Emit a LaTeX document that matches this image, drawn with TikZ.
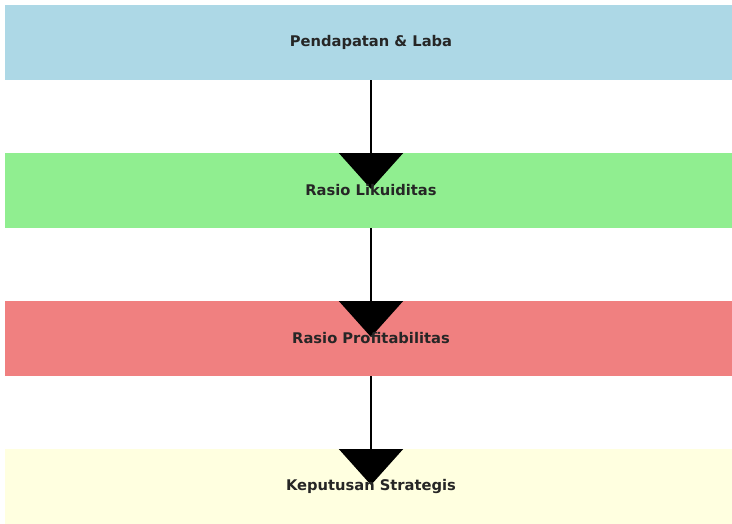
\documentclass[tikz,border=0pt]{standalone}
\usepackage{fontspec}
\setmainfont{DejaVu Sans}
\usetikzlibrary{arrows.meta}
\definecolor{cblue}{HTML}{ADD8E6}
\definecolor{cgreen}{HTML}{90EE90}
\definecolor{cred}{HTML}{F08080}
\definecolor{cyellow}{HTML}{FFFFE0}
\definecolor{ctext}{HTML}{262626}
\begin{document}
\begin{tikzpicture}[x=1pt,y=1pt,
  band/.style={minimum width=732pt,minimum height=75pt,inner sep=0pt,outer sep=0pt,
    font=\fontsize{14.7pt}{17pt}\selectfont\bfseries,text=ctext},
  flow/.style={line width=2.2pt,-{Triangle[width=64pt,length=36pt]}}]
\useasboundingbox (0,0) rectangle (732,-523);
\clip (0,0) rectangle (732,-523);
\node[band,fill=cblue] (a) at (371,-42.5) {};
\node[band,fill=cgreen] (b) at (371,-190.5) {};
\node[band,fill=cred] (c) at (371,-338.5) {};
\node[band,fill=cyellow] (d) at (371,-486.5) {};
\draw[flow] (a.south) -- ([yshift=-36pt]b.north);
\draw[flow] (b.south) -- ([yshift=-36pt]c.north);
\draw[flow] (c.south) -- ([yshift=-36pt]d.north);
\node[band] at (a.center) {Pendapatan \& Laba};
\node[band] at (b.center) {Rasio Likuiditas};
\node[band] at (c.center) {Rasio Profitabilitas};
\node[band] at (d.center) {Keputusan Strategis};
\end{tikzpicture}
\end{document}
